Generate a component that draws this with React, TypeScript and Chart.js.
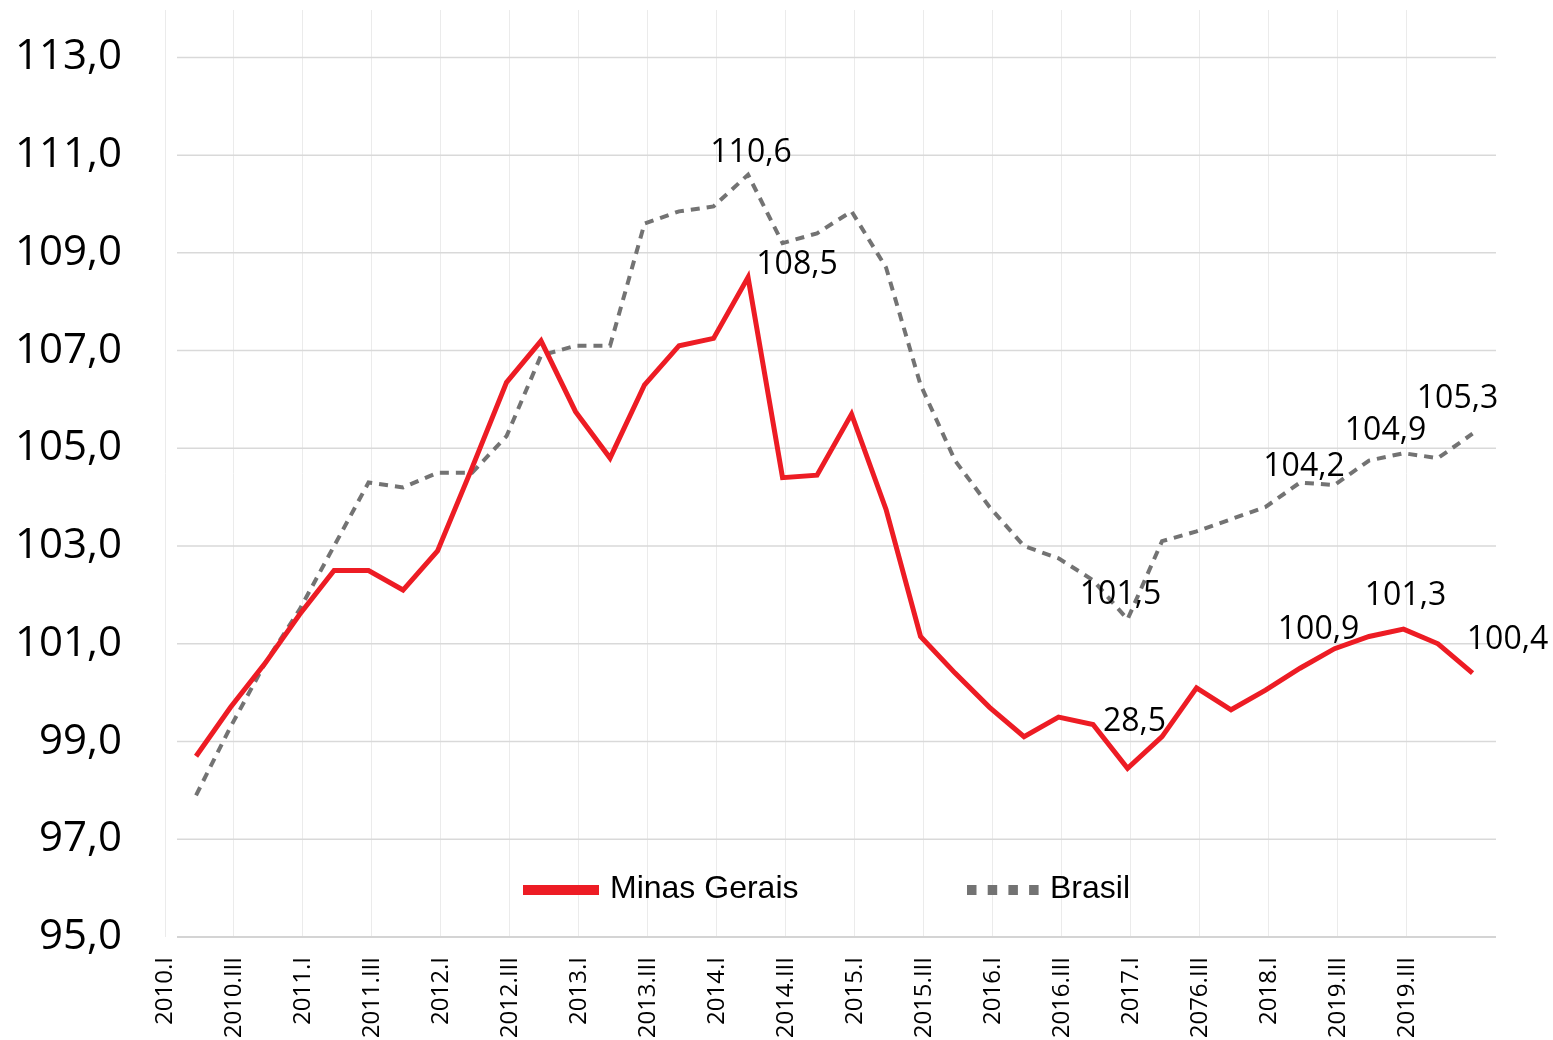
import React, { useEffect, useRef } from "react";
import { Chart, registerables } from "chart.js";

Chart.register(...registerables);

// x-axis tick labels (every second quarter, as printed in the source)
const tickLabels = [
  "2010.I", "2010.III", "2011.I", "2011.III", "2012.I", "2012.III", "2013.I",
  "2013.III", "2014.I", "2014.III", "2015.I", "2015.III", "2016.I", "2016.III",
  "2017.I", "2076.III", "2018.I", "2019.III", "2019.III",
];

const minasGerais = [
  98.7, 99.7, 100.6, 101.6, 102.5, 102.5, 102.1, 102.9, 104.6, 106.35,
  107.2, 105.75, 104.8, 106.3, 107.1, 107.25, 108.5, 104.4, 104.45, 105.7,
  103.75, 101.15, 100.4, 99.7, 99.1, 99.5, 99.35, 98.45, 99.1, 100.1,
  99.65, 100.05, 100.5, 100.9, 101.15, 101.3, 101.0, 100.4,
];

const brasil = [
  97.9, 99.3, 100.6, 101.7, 103.0, 104.3, 104.2, 104.5, 104.5, 105.25,
  106.9, 107.1, 107.1, 109.6, 109.85, 109.95, 110.6, 109.2, 109.4, 109.85,
  108.7, 106.3, 104.75, 103.8, 103.0, 102.75, 102.3, 101.5, 103.1, 103.3,
  103.55, 103.8, 104.3, 104.25, 104.75, 104.9, 104.8, 105.3,
];

const yTicks = [95, 97, 99, 101, 103, 105, 107, 109, 111, 113];

const seriesNames = ["Minas Gerais", "Brasil"];

// value labels shown on the chart (text as printed in the source)
const redLabelIdx = [16, 27, 33, 35, 37];
const redLabelText = ["108,5", "28,5", "100,9", "101,3", "100,4"];
const brLabelIdx = [16, 27, 32, 35, 37];
const brLabelText = ["110,6", "101,5", "104,2", "104,9", "105,3"];

// label offsets (pixels, centre of text relative to the point)
const redLabelDx = [49, 7, -16, 2, 35];
const redLabelDy = [-15, -49, -21, -36, -36];
const brLabelDx = [3, -7, 4, -18, -15];
const brLabelDy = [-24, -27, -18, -25, -37];

const RED = "#ED1C24";
const GREY = "#737373";

const hGridPlugin = {
  id: "hGrid",
  beforeDatasetsDraw(chart: any) {
    const ctx = chart.ctx;
    const y = chart.scales.y;
    const area = chart.chartArea;
    const x0 = area.left + 12;
    ctx.save();
    ctx.strokeStyle = "#d9d9d9";
    ctx.lineWidth = 1.5;
    yTicks.forEach((v) => {
      const py = y.getPixelForValue(v);
      ctx.beginPath();
      ctx.moveTo(x0, py);
      ctx.lineTo(area.right, py);
      ctx.stroke();
    });
    ctx.strokeStyle = "#d4d4d4";
    ctx.lineWidth = 2;
    ctx.beginPath();
    ctx.moveTo(x0, area.bottom);
    ctx.lineTo(area.right, area.bottom);
    ctx.stroke();
    ctx.restore();
  },
};

const valueLabelPlugin = {
  id: "valueLabels",
  afterDatasetsDraw(chart: any) {
    const ctx = chart.ctx;
    ctx.save();
    ctx.font = '32px "Open Sans"';
    ctx.fillStyle = "#000";
    ctx.textAlign = "center";
    ctx.textBaseline = "alphabetic";
    const capHalf = 0.357 * 32;
    const draw = (ds: number, idx: number[], txt: string[], dx: number[], dy: number[]) => {
      const meta = chart.getDatasetMeta(ds);
      idx.forEach((i, k) => {
        const el = meta.data[i];
        if (!el) return;
        ctx.fillText(txt[k], el.x + dx[k], el.y + dy[k] + capHalf);
      });
    };
    draw(0, redLabelIdx, redLabelText, redLabelDx, redLabelDy);
    draw(1, brLabelIdx, brLabelText, brLabelDx, brLabelDy);
    ctx.restore();
  },
};

const legendPlugin = {
  id: "customLegend",
  afterDraw(chart: any) {
    const ctx = chart.ctx;
    const ds = chart.data.datasets;
    ctx.save();
    ctx.font = '32px "Liberation Sans"';
    ctx.textBaseline = "alphabetic";
    ctx.textAlign = "left";
    // Minas Gerais
    ctx.fillStyle = ds[0].borderColor;
    ctx.fillRect(523, 885, 76, 10);
    ctx.fillStyle = "#000";
    ctx.fillText(ds[0].label, 610, 898);
    // Brasil
    ctx.fillStyle = ds[1].borderColor;
    for (let k = 0; k < 4; k++) {
      ctx.fillRect(967 + k * 20.7, 885, 9.5, 10);
    }
    ctx.fillStyle = "#000";
    ctx.fillText(ds[1].label, 1050, 898);
    ctx.restore();
  },
};

export default function App() {
  const ref = useRef<HTMLCanvasElement>(null);

  useEffect(() => {
    const canvas = ref.current;
    if (!canvas) return;
    const firstTick = -0.9;
    const chart = new Chart(canvas, {
      type: "line",
      data: {
        datasets: [
          {
            label: seriesNames[0],
            data: minasGerais.map((v, i) => ({ x: i, y: v })),
            borderColor: RED,
            backgroundColor: RED,
            borderWidth: 5,
            pointRadius: 0,
            tension: 0,
            fill: false,
            borderJoinStyle: "miter",
          },
          {
            label: seriesNames[1],
            data: brasil.map((v, i) => ({ x: i, y: v })),
            borderColor: GREY,
            backgroundColor: GREY,
            borderWidth: 4,
            borderDash: [9, 7],
            pointRadius: 0,
            tension: 0,
            fill: false,
          },
        ],
      },
      options: {
        responsive: false,
        animation: false,
        events: [],
        layout: { padding: { top: 10, right: 57, left: 0, bottom: 0 } },
        plugins: {
          legend: { display: false },
          tooltip: { enabled: false },
        },
        scales: {
          x: {
            type: "linear",
            min: firstTick,
            max: 37.68,
            afterBuildTicks: (axis: any) => {
              axis.ticks = tickLabels.map((_, k) => ({ value: firstTick + 2 * k }));
            },
            afterFit: (axis: any) => {
              axis.height = 103;
              axis.paddingLeft = 0;
              axis.paddingRight = 0;
            },
            ticks: {
              autoSkip: false,
              maxRotation: 90,
              minRotation: 90,
              padding: 20,
              color: "#000",
              font: { family: "Open Sans", size: 24 },
              callback: (_v: any, idx: number) => tickLabels[idx],
            },
            grid: { color: "#ebebeb", lineWidth: 1, drawTicks: false },
            border: { display: false },
          },
          y: {
            type: "linear",
            min: 95,
            max: 113.97,
            afterBuildTicks: (axis: any) => {
              axis.ticks = yTicks.map((v) => ({ value: v }));
            },
            afterFit: (axis: any) => {
              axis.width = 165;
              axis.paddingTop = 0;
              axis.paddingBottom = 0;
            },
            ticks: {
              padding: 43,
              color: "#000",
              font: { family: "Open Sans", size: 42 },
              callback: (v: any) => Number(v).toFixed(1).replace(".", ","),
            },
            grid: { display: false, drawTicks: false },
            border: { display: false },
          },
        },
      } as any,
      plugins: [hGridPlugin, valueLabelPlugin, legendPlugin],
    });
    return () => chart.destroy();
  }, []);

  return (
    <div style={{ position: "absolute", left: 0, top: 0, width: 1553, height: 1040, background: "#fff" }}>
      <canvas ref={ref} width={1553} height={1040} style={{ display: "block", width: 1553, height: 1040 }} />
    </div>
  );
}
